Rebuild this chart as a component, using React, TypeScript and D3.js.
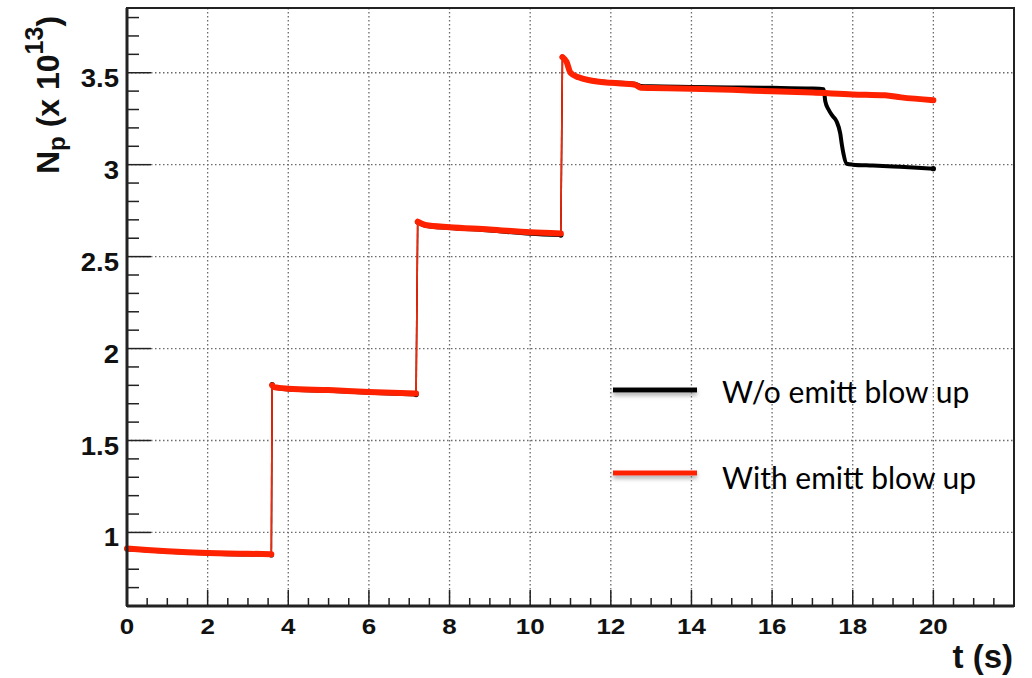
import React from 'react'
import * as d3 from 'd3'

// time (s) and N_p (x 1e13)
const timeWith = [0, 0.5, 1, 1.5, 2, 2.5, 3, 3.58, 3.6, 3.65, 4, 5, 6, 7.17, 7.21, 7.4, 8, 9, 10, 10.76, 10.8, 10.9, 11.0, 11.2, 11.5, 12, 12.6, 12.75, 13, 14, 15, 16, 17, 18, 18.8, 19.2, 20]
const npWith = [0.913, 0.905, 0.898, 0.892, 0.888, 0.885, 0.884, 0.882, 1.8, 1.79, 1.782, 1.774, 1.764, 1.756, 2.69, 2.672, 2.66, 2.648, 2.632, 2.626, 3.585, 3.56, 3.5, 3.475, 3.458, 3.445, 3.435, 3.418, 3.417, 3.413, 3.407, 3.399, 3.392, 3.382, 3.377, 3.366, 3.35]

const timeWithout = [0, 0.5, 1, 1.5, 2, 2.5, 3, 3.58, 3.6, 3.65, 4, 5, 6, 7.17, 7.21, 7.4, 8, 9, 10, 10.76, 10.8, 10.9, 11.0, 11.2, 11.5, 12, 12.6, 12.75, 13, 14, 15, 16, 17, 17.28, 17.32, 17.4, 17.5, 17.6, 17.69, 17.73, 17.77, 17.85, 18, 18.5, 19, 19.5, 20]
const npWithout = [0.91, 0.902, 0.895, 0.889, 0.885, 0.882, 0.88, 0.878, 1.804, 1.788, 1.778, 1.77, 1.76, 1.75, 2.688, 2.668, 2.656, 2.642, 2.624, 2.617, 3.585, 3.56, 3.5, 3.475, 3.46, 3.448, 3.44, 3.428, 3.426, 3.423, 3.42, 3.418, 3.414, 3.41, 3.344, 3.3, 3.265, 3.235, 3.17, 3.11, 3.06, 3.005, 3.0, 2.995, 2.99, 2.985, 2.978]

const xTicks = [0, 2, 4, 6, 8, 10, 12, 14, 16, 18, 20]
const yTicks = [1, 1.5, 2, 2.5, 3, 3.5]
const seriesNames = ['W/o emitt blow up', 'With emitt blow up']
const seriesColors = ['#000000', '#ff2200']

const W = 1032
const H = 678
const frame = { left: 127, right: 1014, top: 8, bottom: 606 }

// split a curve at the injection steps so plateaus are thick and jumps thin
function splitRuns(ts: number[], vs: number[]) {
  const runs: [number, number][][] = [[]]
  ts.forEach((t, i) => {
    if (i > 0 && Math.abs(vs[i] - vs[i - 1]) > 0.3) runs.push([])
    runs[runs.length - 1].push([t, vs[i]])
  })
  return runs
}

export default function App() {
  const x = d3.scaleLinear().domain([0, 22]).range([frame.left, frame.right])
  const y = d3.scaleLinear().domain([0.6, 3.852]).range([frame.bottom, frame.top])
  const line = d3.line<[number, number]>().x(d => x(d[0])).y(d => y(d[1])).curve(d3.curveMonotoneX)

  const xMinor = d3.range(0, 22.01, 0.5)
  const yMinor = d3.range(0.6, 3.851, 0.1)

  const drawSeries = (ts: number[], vs: number[], color: string, width: number, dots: boolean) => {
    const runs = splitRuns(ts, vs)
    return (
      <g>
        {runs.slice(1).map((r, i) => {
          const prev = runs[i][runs[i].length - 1]
          return <line key={'j' + i} x1={x(prev[0])} y1={y(prev[1])} x2={x(r[0][0])} y2={y(r[0][1])}
            stroke={color} strokeWidth={1.6} />
        })}
        {runs.map((r, i) => (
          <path key={'r' + i} d={line(r) || ''} fill="none" stroke={color} strokeWidth={width}
            strokeLinejoin="round" strokeLinecap="round" />
        ))}
        {dots && runs.map((r, i) => (
          <g key={'d' + i}>
            <circle cx={x(r[0][0])} cy={y(r[0][1])} r={2.6} fill={color} />
            <circle cx={x(r[r.length - 1][0])} cy={y(r[r.length - 1][1])} r={2.6} fill={color} />
          </g>
        ))}
      </g>
    )
  }

  const grid = '#6a6a6a'
  const axisFont = '"Liberation Sans", Arial, sans-serif'

  return (
    <svg width={W} height={H} style={{ position: 'absolute', left: 0, top: 0, background: '#fff' }}>
      <defs>
        <filter id="shadow" filterUnits="userSpaceOnUse" x={590} y={370} width={140} height={130}>
          <feDropShadow dx="0" dy="3" stdDeviation="2" floodColor="#777" floodOpacity="0.6" />
        </filter>
      </defs>

      {/* grid */}
      {xTicks.map(t => (
        <line key={'gx' + t} x1={x(t)} x2={x(t)} y1={frame.top} y2={frame.bottom}
          stroke={grid} strokeWidth={1.3} strokeDasharray="1.5,2.5" />
      ))}
      {yTicks.map(t => (
        <line key={'gy' + t} x1={frame.left} x2={frame.right} y1={y(t)} y2={y(t)}
          stroke={grid} strokeWidth={1.3} strokeDasharray="1.5,2.5" />
      ))}

      {/* ticks */}
      {xMinor.map(t => {
        const major = Math.abs(t / 2 - Math.round(t / 2)) < 1e-6
        return <line key={'tx' + t} x1={x(t)} x2={x(t)} y1={frame.bottom} y2={frame.bottom - (major ? 16 : 8)}
          stroke="#222" strokeWidth={1.5} />
      })}
      {yMinor.map(t => {
        const major = Math.abs(t * 2 - Math.round(t * 2)) < 1e-6
        return <line key={'ty' + t} x1={frame.left} x2={frame.left + (major ? 24 : 12)} y1={y(t)} y2={y(t)}
          stroke="#222" strokeWidth={1.5} />
      })}

      {/* curves */}
      {drawSeries(timeWithout, npWithout, seriesColors[0], 4, true)}
      {drawSeries(timeWith, npWith, seriesColors[1], 6, false)}

      {/* frame */}
      <rect x={frame.left} y={frame.top} width={frame.right - frame.left} height={frame.bottom - frame.top}
        fill="none" stroke="#222" strokeWidth={2} />
      <line x1={frame.left} x2={frame.left} y1={frame.top} y2={frame.bottom} stroke="#222" strokeWidth={3} />
      <line x1={frame.left} x2={frame.right} y1={frame.bottom} y2={frame.bottom} stroke="#222" strokeWidth={3} />

      {/* tick labels */}
      {xTicks.map(t => (
        <text key={'lx' + t} transform={`translate(${x(t)},634) scale(1.18,1)`} textAnchor="middle"
          fontFamily={axisFont} fontWeight="bold" fontSize={22} fill="#111">{t}</text>
      ))}
      {yTicks.map(t => (
        <text key={'ly' + t} transform={`translate(119,${y(t) + 14}) scale(1.1,1)`} textAnchor="end"
          fontFamily={axisFont} fontWeight="bold" fontSize={25} fill="#111">{t}</text>
      ))}

      {/* axis titles */}
      <text x={1013} y={668} textAnchor="end" fontFamily={axisFont} fontWeight="bold" fontSize={33} fill="#111">t (s)</text>
      <text transform="translate(59,174) rotate(-90)" fontFamily={axisFont} fontWeight="bold" fontSize={32} fill="#111">
        N<tspan fontSize={24} dy={6}>p</tspan><tspan dy={-6}> (x 10</tspan>
        <tspan fontSize={25} dy={-16}>13</tspan><tspan dy={16}>)</tspan>
      </text>

      {/* legend */}
      {seriesNames.map((name, i) => {
        const ly = i === 0 ? 390 : 473
        return (
          <g key={name}>
            <rect x={613} y={ly - 2.5} width={84} height={5} fill={seriesColors[i]} filter="url(#shadow)" />
            <text x={722} y={ly + (i === 0 ? 13 : 16)} fontFamily="Lato, 'Open Sans', sans-serif" fontSize={30} fill="#000">{name}</text>
          </g>
        )
      })}
    </svg>
  )
}
